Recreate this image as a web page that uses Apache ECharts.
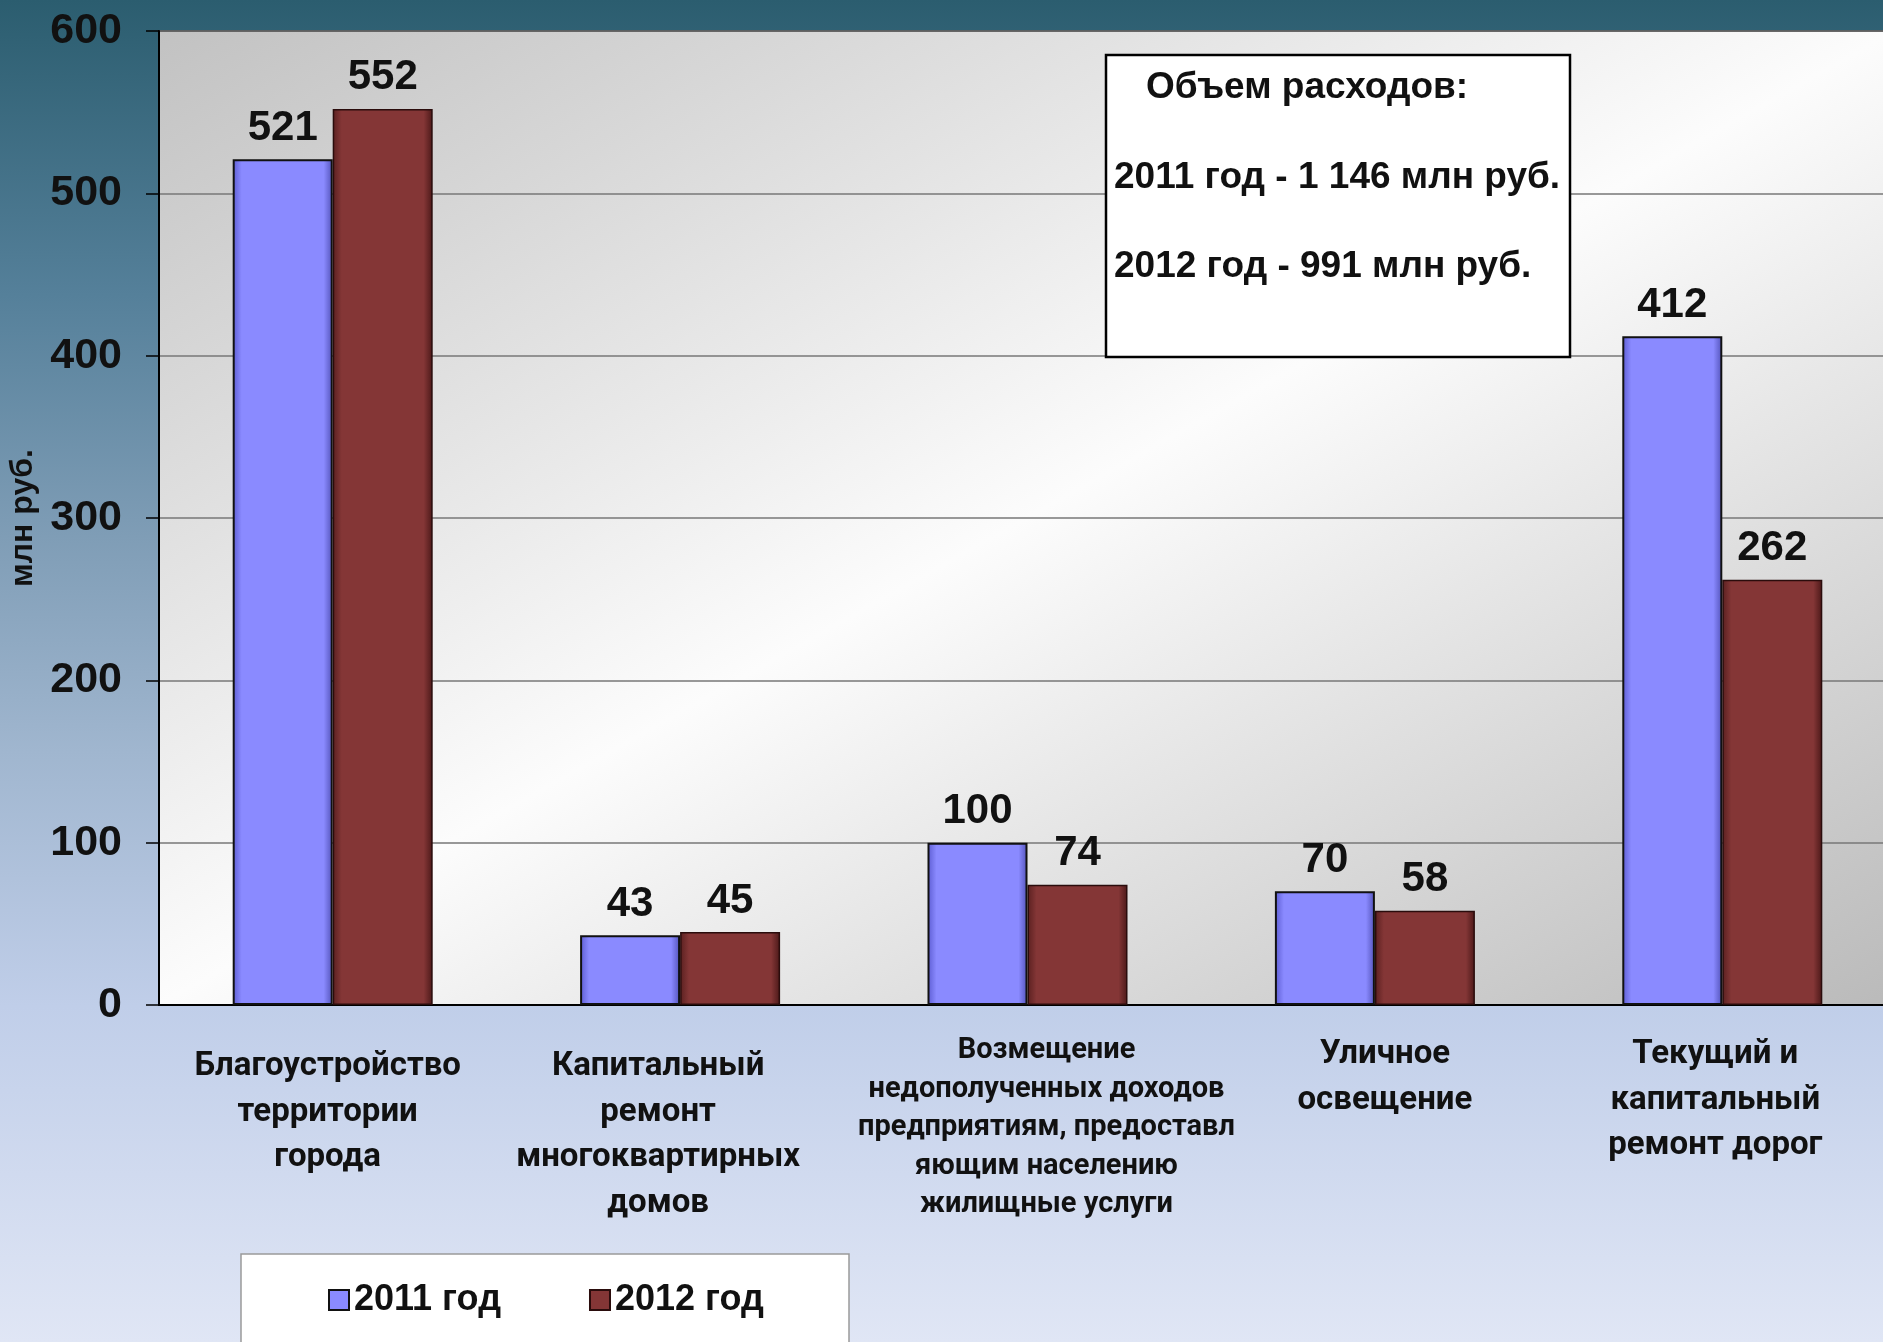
<!DOCTYPE html>
<html>
<head>
<meta charset="utf-8">
<script src="https://cdn.jsdelivr.net/npm/echarts@6/dist/echarts.min.js"></script>
<style>html,body{margin:0;padding:0;}#c{width:1883px;height:1342px;}</style>
</head>
<body>
<div id="c"></div>
<script>
// ---- data ----
var categories = [
  'Благоустройство\nтерритории\nгорода',
  'Капитальный\nремонт\nмногоквартирных\nдомов',
  'Возмещение\nнедополученных доходов\nпредприятиям, предоставл\nяющим населению\nжилищные услуги',
  'Уличное\nосвещение',
  'Текущий и\nкапитальный\nремонт дорог'
];
var seriesNames = ['2011 год', '2012 год'];
var values2011 = [521, 43, 100, 70, 412];
var values2012 = [552, 45, 74, 58, 262];
var yTicks = [0, 100, 200, 300, 400, 500, 600];
var axisTitle = 'млн руб.';
var noteLines = ['Объем расходов:', '2011 год - 1 146 млн руб.', '2012 год - 991 млн руб.'];

// ---- style ----
var NUM_FONT = '"Liberation Sans", Arial, sans-serif';
var CAT_FONT = 'Roboto, "Noto Sans", sans-serif';
var LABEL_DX = [-5, -22, 19, 10, -7];

function gradH(c0, c1, c2) {
  return new echarts.graphic.LinearGradient(0, 0, 1, 0, [
    {offset: 0, color: c0}, {offset: 0.09, color: c1},
    {offset: 0.91, color: c1}, {offset: 1, color: c2}
  ]);
}
var blueFill = gradH('#5c5cd2', '#8a8aff', '#5252b8');
var redFill = gradH('#5a2020', '#843636', '#4a1818');

var rich = {sp: {fontSize: 1, lineHeight: 12}};
LABEL_DX.forEach(function (dx, i) {
  var pad = dx > 0 ? [0, 0, 0, 2 * dx] : [0, -2 * dx, 0, 0];
  var small = (i === 2);
  rich['k' + i] = {
    fontFamily: CAT_FONT, fontWeight: 'bold',
    fontSize: small ? 29 : 33, lineHeight: small ? 38.4 : 45.6,
    color: '#111', padding: pad
  };
});

var chart = echarts.init(document.getElementById('c'), null, {renderer: 'canvas'});
chart.setOption({
  animation: false,
  backgroundColor: new echarts.graphic.LinearGradient(0, 0, 0, 1, [
    {offset: 0, color: '#2b5d6f'},
    {offset: 0.22, color: '#55809a'},
    {offset: 0.4, color: '#7f9db6'},
    {offset: 0.56, color: '#a0b6cf'},
    {offset: 0.75, color: '#c0cee9'},
    {offset: 1, color: '#e0e6f5'}
  ]),
  grid: {
    left: 159, right: -13, top: 31, bottom: 337,
    outerBoundsMode: 'none', containLabel: false,
    show: true, borderColor: '#000', borderWidth: 1.5,
    backgroundColor: new echarts.graphic.LinearGradient(612, -222, 1442, 1258, [
      {offset: 0, color: '#c2c2c2'},
      {offset: 0.5, color: '#fcfcfc'},
      {offset: 1, color: '#bababa'}
    ], true)
  },
  legend: {
    left: 328, top: 1280, padding: 0,
    itemWidth: 20, itemHeight: 20, itemGap: 88, icon: 'rect',
    textStyle: {fontFamily: NUM_FONT, fontWeight: 'bold', fontSize: 36, color: '#111', lineHeight: 40},
    data: seriesNames
  },
  xAxis: {
    type: 'category',
    data: categories,
    axisLine: {lineStyle: {color: '#000', width: 2}},
    axisTick: {show: false},
    axisLabel: {
      interval: 0, margin: 27,
      formatter: function (v, i) {
        var lines = v.split('\n').map(function (l) { return '{k' + i + '|' + l + '}'; });
        return (i < 2 ? '{sp| }\n' : '') + lines.join('\n');
      },
      rich: rich
    }
  },
  yAxis: {
    type: 'value', min: yTicks[0], max: yTicks[yTicks.length - 1], interval: 100,
    name: axisTitle, nameLocation: 'middle', nameGap: 115, nameRotate: 90,
    nameTextStyle: {fontFamily: NUM_FONT, fontWeight: 'bold', fontSize: 32, color: '#111'},
    axisLine: {show: true, lineStyle: {color: '#000', width: 2}},
    axisTick: {show: true, length: 13, lineStyle: {color: '#000', width: 1.5}},
    axisLabel: {margin: 37, fontFamily: NUM_FONT, fontWeight: 'bold', fontSize: 43, color: '#111'},
    splitLine: {lineStyle: {color: '#777', width: 1.5}}
  },
  series: [
    {
      name: seriesNames[0], type: 'bar', data: values2011,
      barWidth: 100, barGap: '0%',
      itemStyle: {color: blueFill, borderColor: '#111', borderWidth: 2},
      label: {show: true, position: 'top', distance: 10, fontFamily: NUM_FONT, fontWeight: 'bold', fontSize: 42, color: '#111'}
    },
    {
      name: seriesNames[1], type: 'bar', data: values2012,
      barWidth: 100, barGap: '0%',
      itemStyle: {color: redFill, borderColor: '#2a0c0c', borderWidth: 1.5},
      label: {show: true, position: 'top', distance: 10, fontFamily: NUM_FONT, fontWeight: 'bold', fontSize: 42, color: '#111'}
    }
  ],
  graphic: [
    {type: 'rect', z: 5, shape: {x: 1106, y: 55, width: 464, height: 302},
     style: {fill: '#fff', stroke: '#000', lineWidth: 2.5}},
    {type: 'text', z: 6, x: 1146, y: 88,
     style: {text: noteLines[0], font: 'bold 37px ' + NUM_FONT, fill: '#111', verticalAlign: 'middle'}},
    {type: 'text', z: 6, x: 1114, y: 178,
     style: {text: noteLines[1], font: 'bold 37px ' + NUM_FONT, fill: '#111', verticalAlign: 'middle'}},
    {type: 'text', z: 6, x: 1114, y: 267,
     style: {text: noteLines[2], font: 'bold 37px ' + NUM_FONT, fill: '#111', verticalAlign: 'middle'}},
    {type: 'rect', z: -1, shape: {x: 241, y: 1254, width: 608, height: 120},
     style: {fill: '#fff', stroke: '#9a9a9a', lineWidth: 1.5}}
  ]
});
</script>
</body>
</html>
